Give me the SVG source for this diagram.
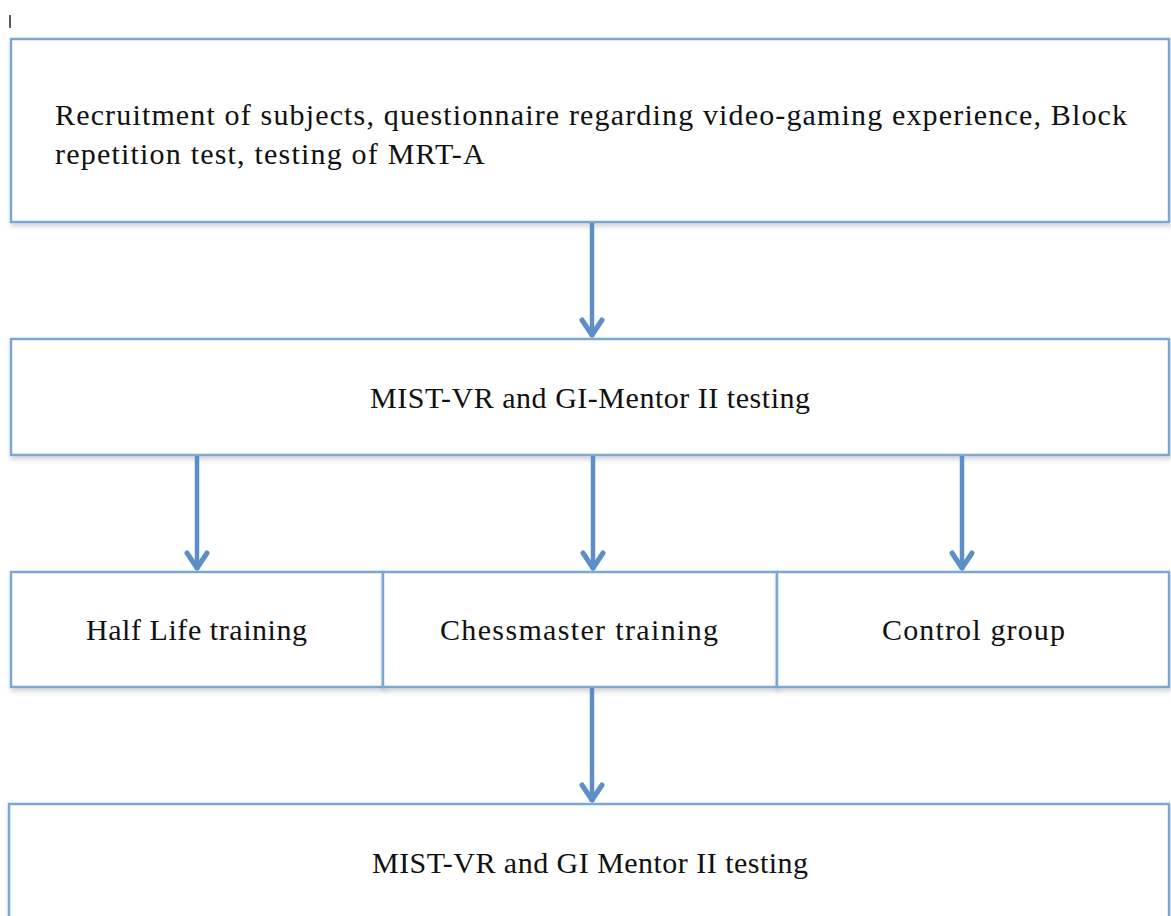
<svg xmlns="http://www.w3.org/2000/svg" width="1171" height="916" viewBox="0 0 1171 916">
<defs>
<style>
.box{fill:#ffffff;stroke:#7ba6d3;stroke-width:2.5;filter:url(#sh)}
.lbl{font-family:"Liberation Serif","DejaVu Serif",serif;font-size:30px;fill:#111111}
.conn{stroke:#5b8fc6;stroke-width:4.5;fill:none;marker-end:url(#ah)}
</style>
<filter id="sh" x="-5%" y="-5%" width="110%" height="115%">
<feDropShadow dx="1" dy="3" stdDeviation="2.5" flood-color="#000000" flood-opacity="0.18"/>
</filter>
<marker id="ah" markerUnits="userSpaceOnUse" viewBox="-22 -14 26 28" markerWidth="26" markerHeight="28" refX="0" refY="0" orient="auto">
<path d="M-17,-10 L-2,0 L-17,10" fill="none" stroke="#5b8fc6" stroke-width="5" stroke-linecap="round" stroke-linejoin="round"/>
</marker>
</defs>
<rect width="1171" height="916" fill="#ffffff"/>
<line x1="10" y1="15" x2="10" y2="28" stroke="#222222" stroke-width="1.5"/>
<g id="n1">
<rect class="box" x="11" y="39" width="1158" height="183"/>
<text class="lbl" x="55" y="125" textLength="1072" lengthAdjust="spacing">Recruitment of subjects, questionnaire regarding video-gaming experience, Block</text>
<text class="lbl" x="55" y="164" letter-spacing="1.2">repetition test, testing of MRT-A</text>
</g>
<g id="n2">
<rect class="box" x="11" y="339" width="1158" height="116"/>
<text class="lbl" x="370" y="408" textLength="440" lengthAdjust="spacing">MIST-VR and GI-Mentor II testing</text>
</g>
<g id="n3">
<rect class="box" x="11" y="572" width="372" height="115"/>
<text class="lbl" x="86" y="640" textLength="221" lengthAdjust="spacing">Half Life training</text>
</g>
<g id="n4">
<rect class="box" x="383" y="572" width="394" height="115"/>
<text class="lbl" x="440" y="640" textLength="278" lengthAdjust="spacing">Chessmaster training</text>
</g>
<g id="n5">
<rect class="box" x="777" y="572" width="392" height="115"/>
<text class="lbl" x="882" y="640" textLength="183" lengthAdjust="spacing">Control group</text>
</g>
<g id="n6">
<rect class="box" x="9" y="804" width="1160" height="140"/>
<text class="lbl" x="372" y="873" textLength="436" lengthAdjust="spacing">MIST-VR and GI Mentor II testing</text>
</g>
<g id="connectors">
<line class="conn" x1="592" y1="223" x2="592" y2="337"/>
<line class="conn" x1="197" y1="456" x2="197" y2="570"/>
<line class="conn" x1="593" y1="456" x2="593" y2="570"/>
<line class="conn" x1="962" y1="456" x2="962" y2="570"/>
<line class="conn" x1="592" y1="688" x2="592" y2="802"/>
</g>
</svg>
